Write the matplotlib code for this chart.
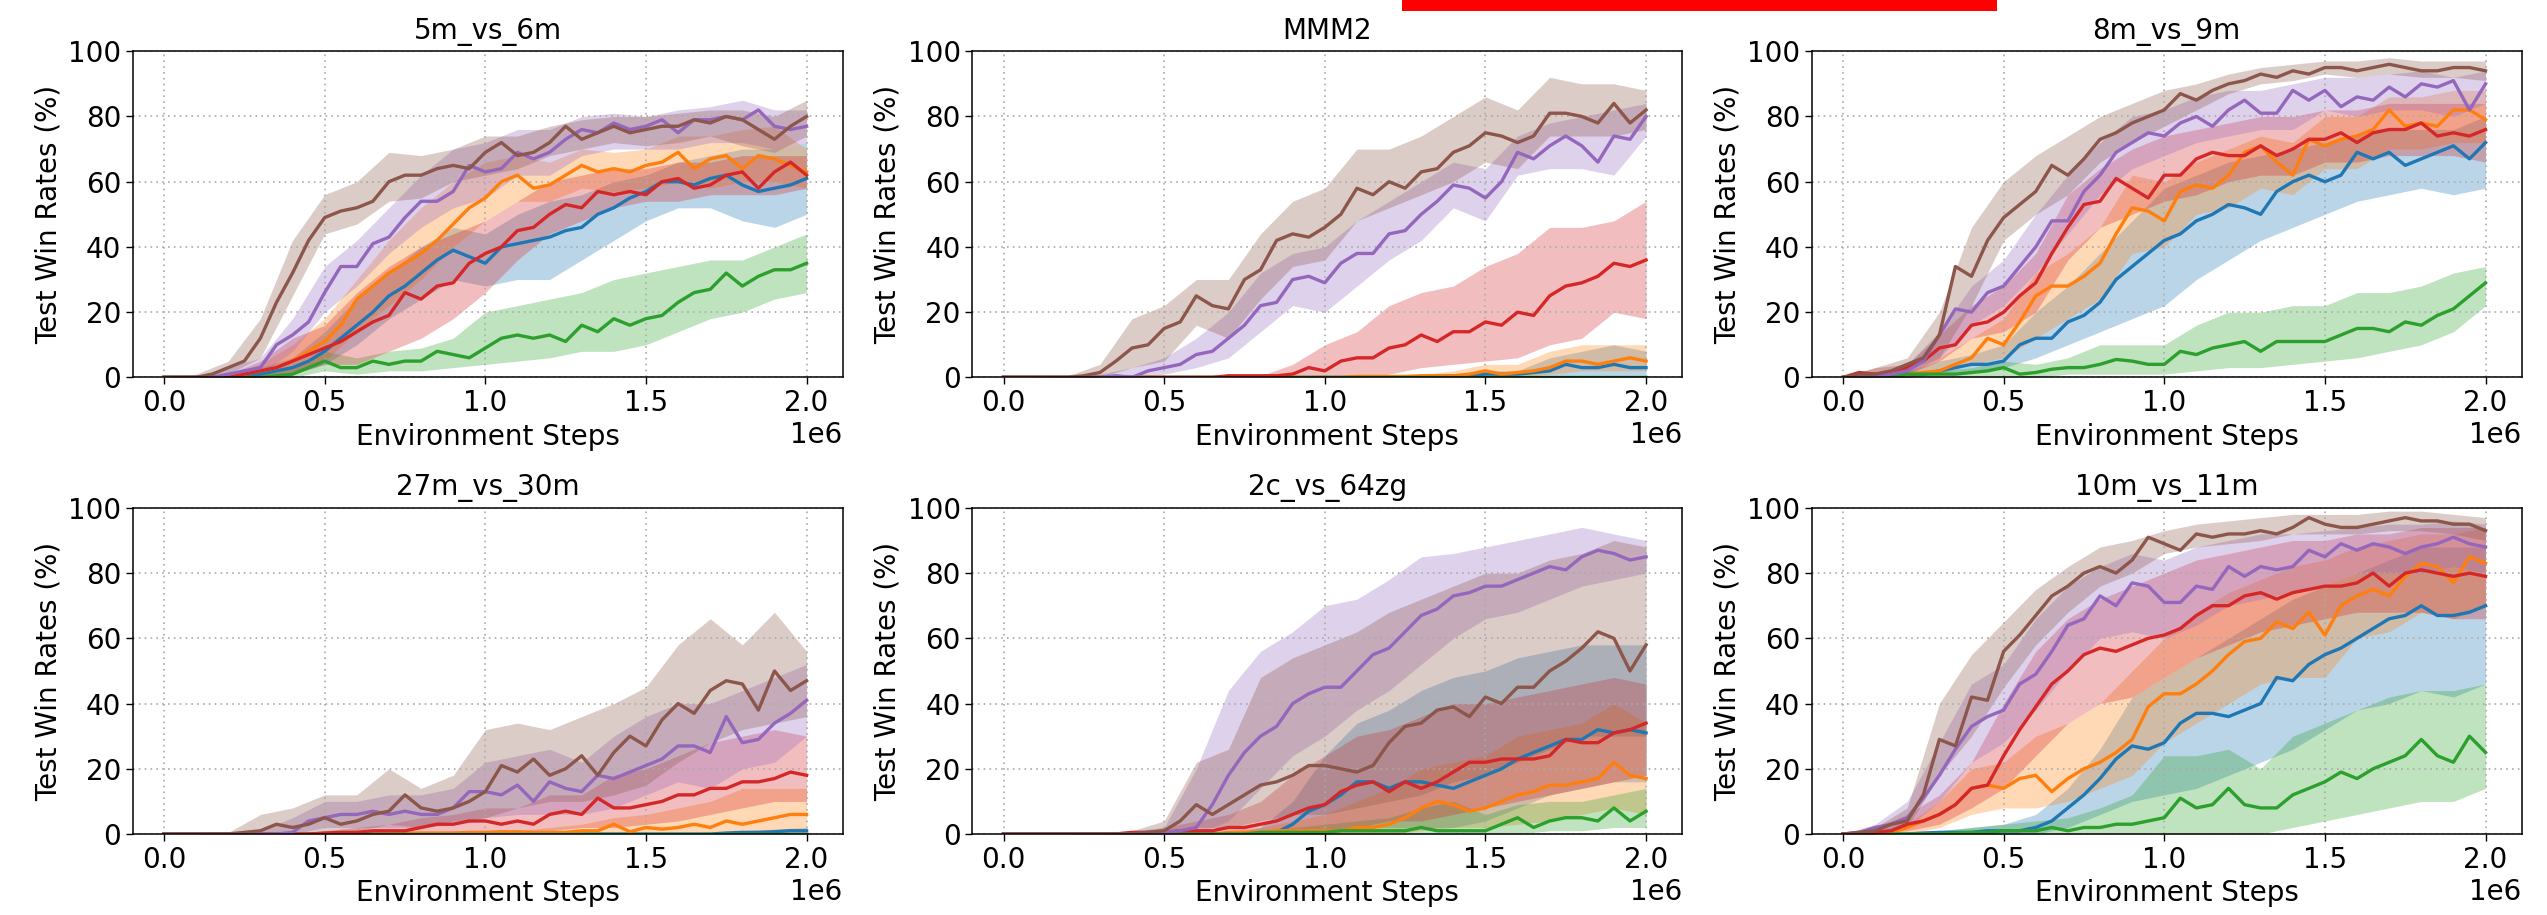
import numpy as np
import matplotlib
matplotlib.use("Agg")
import matplotlib.pyplot as plt
from matplotlib.patches import Rectangle

# ---------------- data (win rates in %) ----------------
# mean curves sampled every 0.05e6 steps (41 pts), bands every 0.1e6 (21 pts)
titles = ["5m_vs_6m", "MMM2", "8m_vs_9m", "27m_vs_30m", "2c_vs_64zg", "10m_vs_11m"]
series_colors = ["#1f77b4", "#ff7f0e", "#2ca02c", "#d62728", "#9467bd", "#8c564b"]
xticks_vals = [0.0, 0.5e6, 1.0e6, 1.5e6, 2.0e6]
yticks_vals = [0, 20, 40, 60, 80, 100]

# --- 5m_vs_6m
A_blue = [0,0,0,0,0, 0.5,1,2,3,5, 8,12,16,20,25, 28,32,36,39,37, 35,40,41,42,43, 45,46,50,52,55, 57,60,60,59,61, 62,59,57,58,59, 61]
A_blue_lo = [0,0,0,0,1,4,10,18,24,30,28,30,30,36,42,48,52,52,48,46,50]
A_blue_hi = [0,0,1,3,6,14,24,32,40,46,44,50,54,56,60,62,66,68,70,70,72]
A_orange = [0,0,0,0,0, 1,2,3,5,8, 11,16,24,28,32, 35,38,42,47,52, 55,60,62,58,59, 62,65,63,64,63, 65,66,69,64,67, 68,64,68,67,65, 63]
A_orange_lo = [0,0,0,0,2,5,14,22,30,40,48,54,54,58,57,58,60,58,60,60,58]
A_orange_hi = [0,0,1,4,10,18,30,42,52,60,66,68,66,70,69,70,74,74,76,77,70]
A_green = [0,0,0,0,0, 0,0,0.5,1,3, 5,3,3,5,4, 5,5,8,7,6, 9,12,13,12,13, 11,16,14,18,16, 18,19,23,26,27, 32,28,31,33,33, 35]
A_green_lo = [0,0,0,0,0,2,1,2,2,3,4,5,6,8,8,10,14,18,20,24,26]
A_green_hi = [0,0,0,1,3,8,6,8,9,12,20,22,24,26,30,32,34,36,36,40,44]
A_red = [0,0,0,0,0, 1,2,3,5,7, 9,11,14,17,19, 26,24,28,29,35, 38,40,45,46,50, 53,52,57,56,57, 56,60,61,58,59, 62,63,58,63,66, 62]
A_red_lo = [0,0,0,0,1,4,4,8,12,18,26,36,44,48,52,54,54,56,56,56,58]
A_red_hi = [0,0,1,5,12,16,26,34,40,44,48,54,60,62,64,64,66,66,68,68,68]
A_purple = [0,0,0,0,1, 2,3,10,13,17, 26,34,34,41,43, 49,54,54,57,65, 63,64,69,67,69, 73,76,75,78,76, 77,79,75,79,79, 80,79,82,77,76, 77]
A_purple_lo = [0,0,0,1,8,20,28,38,46,52,55,62,62,68,70,70,70,72,72,70,72]
A_purple_hi = [0,0.5,3,6,18,34,42,52,62,70,72,76,76,80,81,80,82,83,85,82,82]
A_brown = [0,0,0,1,3, 5,12,23,32,42, 49,51,52,54,60, 62,62,64,65,64, 69,72,68,69,72, 77,73,75,77,75, 76,77,77,79,78, 80,79,76,73,77, 80]
A_brown_lo = [0,0,1,6,25,44,47,54,55,60,62,64,68,70,72,71,72,74,71,69,74]
A_brown_hi = [0,1,5,18,42,56,60,69,68,70,74,74,77,79,80,80,81,82,82,80,85]

# --- MMM2
B_blue = [0,0,0,0,0, 0,0,0,0,0, 0,0,0,0,0, 0,0,0,0,0, 0,0,0,0,0, 0,0,0.3,0.5,0.5, 1,1,1,1.5,2, 4,3,3,4,3, 3]
B_blue_lo = [0,0,0,0,0,0,0,0,0,0,0,0,0,0,0,0,0,0,0,0,0]
B_blue_hi = [0,0,0,0,0,0,0,0,0,0,0,0,0,0,0.5,2,2,6,8,10,8]
B_orange = [0,0,0,0,0, 0,0,0,0,0, 0,0,0,0,0, 0,0,0,0,0, 0,0,0.3,0.3,0.3, 0.3,0.5,0.5,0.5,1, 2,1,1.5,2,3, 5,5,4,5,6, 5]
B_orange_lo = [0,0,0,0,0,0,0,0,0,0,0,0,0,0,0,0,0,1,2,2,2]
B_orange_hi = [0,0,0,0,0,0,0,0,0,0.5,0.5,0.5,0.5,1,2,4,4,8,10,10,10]
B_green = [0,0,0,0,0, 0,0,0,0,0, 0,0,0,0,0, 0,0,0,0,0, 0,0,0,0,0, 0,0,0,0,0, 0,0,0,0,0, 0,0,0,0,0, 0]
B_green_lo = [0,0,0,0,0,0,0,0,0,0,0,0,0,0,0,0,0,0,0,0,0]
B_green_hi = [0,0,0,0,0,0,0,0,0,0,0,0,0,0,0,0,0,0.3,0.3,0.3,0.3]
B_red = [0,0,0,0,0, 0,0,0,0,0, 0,0,0,0,0.5, 0.5,0.5,0.5,1,3, 2,5,6,6,9, 10,13,11,14,14, 17,16,20,19,25, 28,29,31,35,34, 36]
B_red_lo = [0,0,0,0,0,0,0,0,0,0,0,0,1,3,4,5,6,10,12,20,18]
B_red_hi = [0,0,0,0,0,0,0,0,0.5,4,10,14,22,26,28,34,38,46,46,48,54]
B_purple = [0,0,0,0,0, 0,0,0.5,0,2, 3,4,7,8,12, 16,22,23,30,31, 29,35,38,38,44, 45,50,54,59,58, 55,60,69,67,71, 74,71,66,74,73, 80]
B_purple_lo = [0,0,0,0,0,1,3,6,14,22,20,28,36,42,52,48,62,64,64,62,74]
B_purple_hi = [0,0,0,1,3,6,12,20,32,38,40,48,54,60,66,64,74,78,80,82,84]
B_brown = [0,0,0,0,0, 0.5,1.5,5,9,10, 15,17,25,22,21, 30,33,42,44,43, 46,50,58,56,60, 58,63,64,69,71, 75,74,72,74,81, 81,80,78,84,78, 82]
B_brown_lo = [0,0,0,0,3,5,16,12,24,34,36,48,52,56,60,66,64,74,74,74,76]
B_brown_hi = [0,0,0.5,4,18,22,30,30,44,54,58,70,70,74,80,86,82,92,90,90,88]

# --- 8m_vs_9m
C_blue = [0,0,0,0.5,1, 1,2,3,4,4, 5,10,12,12,17, 19,23,30,34,38, 42,44,48,50,53, 52,50,57,60,62, 60,62,69,67,69, 65,67,69,71,67, 72]
C_blue_lo = [0,0,0,1,2,3,6,10,14,18,22,30,36,42,46,50,54,56,58,56,58]
C_blue_hi = [0,0.5,2,5,7,10,20,28,38,48,58,62,66,68,70,72,74,76,76,76,80]
C_orange = [0,0,0,0.5,1, 1.5,2,4,6,12, 10,17,25,28,28, 31,35,44,52,51, 48,57,59,58,62, 69,71,66,62,73, 71,73,74,76,82, 77,78,77,82,82, 79]
C_orange_lo = [0,0,0,1,4,6,12,18,24,38,40,50,52,58,56,64,64,70,70,72,72]
C_orange_hi = [0,0,2,6,12,18,32,38,46,62,60,66,70,74,72,80,80,86,86,88,88]
C_green = [0,0.5,0,0.5,1, 1,1,1,1.5,2, 3,1,1.5,2.5,3, 3,4,5.5,5,4, 4,8,7,9,10, 11,8,11,11,11, 11,13,15,15,14, 17,16,19,21,25, 29]
C_green_lo = [0,0,0,0,0,0,0,1,1,1,1,2,3,3,4,5,6,8,10,14,22]
C_green_hi = [0,1,2,2,3,5,4,6,10,10,10,16,20,20,22,22,26,26,28,32,34]
C_red = [0,1.5,1,1,3, 5,9,10,16,17, 20,25,29,38,46, 53,54,61,58,55, 62,62,67,69,68, 68,71,68,70,73, 73,75,72,75,76, 76,78,74,75,74, 76]
C_red_lo = [0,0,1,5,12,14,20,36,46,50,54,56,60,62,62,66,66,68,68,68,66]
C_red_hi = [0,3,4,13,22,28,38,56,64,70,74,76,78,80,80,82,82,84,84,84,84]
C_purple = [0,0,0.5,1,2, 5,13,21,20,26, 28,34,40,48,48, 57,62,69,72,75, 74,78,80,77,82, 85,81,81,88,85, 88,83,86,85,89, 86,90,89,91,82, 90]
C_purple_lo = [0,0,1,6,16,22,32,44,56,64,68,72,74,76,76,82,80,82,82,80,84]
C_purple_hi = [0,1,4,14,28,36,50,62,72,80,82,86,88,88,90,92,92,93,94,92,94]
C_brown = [0,1,1,2,4, 6,13,34,31,42, 49,53,57,65,62, 67,73,75,78,80, 82,87,85,88,90, 91,93,92,94,93, 95,95,94,95,96, 95,94,94,95,95, 94]
C_brown_lo = [0,0,2,6,22,42,50,56,66,72,77,82,87,90,91,93,92,93,92,92,91]
C_brown_hi = [0,3,6,20,46,60,68,74,80,84,88,90,93,95,96,97,97,98,97,97,97]

# --- 27m_vs_30m
D_blue = [0,0,0,0,0, 0,0,0,0,0, 0,0,0,0,0, 0,0,0,0,0, 0,0,0,0,0, 0,0,0,0,0, 0,0,0,0,0, 0.3,0.5,0.5,0.7,1, 1]
D_blue_lo = [0,0,0,0,0,0,0,0,0,0,0,0,0,0,0,0,0,0,0,0,0]
D_blue_hi = [0,0,0,0,0,0,0,0,0,0,0,0,0,0,0,0,0,0,1,1.5,2]
D_orange = [0,0,0,0,0, 0,0,0,0,0, 0,0,0,0,0, 0.3,0.3,0.3,0.3,0.5, 0.5,0.7,0.7,0.5,0.5, 0.5,1,1,3,0.7, 2,1.5,2,3,2, 4,3,4,5,6, 6]
D_orange_lo = [0,0,0,0,0,0,0,0,0,0,0,0,0,0,0,0,0,0,0,0,0]
D_orange_hi = [0,0,0,0,0,0,0,0.5,0.5,1,1,1,2,3,5,6,8,10,14,14,14]
D_green = [0,0,0,0,0, 0,0,0,0,0, 0,0,0,0,0, 0,0,0,0,0, 0,0,0,0,0, 0,0,0,0,0, 0,0,0,0,0, 0,0,0,0,0, 0]
D_green_lo = [0,0,0,0,0,0,0,0,0,0,0,0,0,0,0,0,0,0,0,0,0]
D_green_hi = [0,0,0,0,0,0,0,0,0,0,0,0,0,0,0,0,0,0,0,0,0]
D_red = [0,0,0,0,0, 0,0,0,0,0, 0.3,0.5,0.5,1,1, 1,2,3,3,4, 4,3,4,3,6, 7,6,11,8,8, 9,10,12,12,14, 14,16,16,17,19, 18]
D_red_lo = [0,0,0,0,0,0,0,0,0,0,0,0,1,2,2,3,4,6,8,10,10]
D_red_hi = [0,0,0,0,0,1,2,3,5,6,8,8,12,12,18,20,24,28,30,32,30]
D_purple = [0,0,0,0,0, 0,0,0,0.5,4, 5,6,6,7,6, 7,6,6,8,13, 13,12,15,10,16, 14,13,18,17,19, 21,23,27,27,25, 36,28,29,34,37, 41]
D_purple_lo = [0,0,0,0,0,2,2,2,2,3,5,6,6,6,8,12,16,14,20,22,30]
D_purple_hi = [0,0,0,1,5,10,10,12,12,14,22,24,26,22,30,36,40,40,44,48,52]
D_brown = [0,0,0,0,0, 0.5,1,3,2,3, 5,3,4,6,7, 12,8,7,8,10, 13,21,19,23,18, 20,24,18,25,30, 27,35,40,37,44, 47,46,38,50,44, 47]
D_brown_lo = [0,0,0,0,0,0,1,3,2,4,5,8,10,10,12,15,22,28,32,34,36]
D_brown_hi = [0,0,0.5,6,8,12,12,20,14,18,32,34,32,36,40,45,58,66,58,68,56]

# --- 2c_vs_64zg
E_blue = [0,0,0,0,0, 0,0,0,0,0, 0,0,0,0,0, 0,0,0.5,3,7, 9,12,16,16,14, 16,16,15,14,16, 18,20,23,25,27, 29,29,32,31,32, 31]
E_blue_lo = [0,0,0,0,0,0,0,0,0,0,0,2,2,2,2,4,8,12,14,16,16]
E_blue_hi = [0,0,0,0,0,0,0,0,2,10,24,34,38,44,48,50,54,56,58,58,58]
E_orange = [0,0,0,0,0, 0,0,0,0,0, 0,0,0,0,0.5, 0.5,0.5,1,1,1, 1,1,2,2,3, 5,8,10,9,7, 8,10,12,13,15, 15,16,17,22,18, 17]
E_orange_lo = [0,0,0,0,0,0,0,0,0,0,0,0,0,1,2,2,3,4,6,8,6]
E_orange_hi = [0,0,0,0,0,0,0,1,2,4,6,10,14,20,22,24,30,32,34,40,34]
E_green = [0,0,0,0,0, 0,0,0,0,0, 0,0,0,0,0, 0,0.5,0.5,0.5,0.5, 0.5,1,1,1,1, 1,2,1,1,1, 1,3,5,2,4, 5,5,4,8,4, 7]
E_green_lo = [0,0,0,0,0,0,0,0,0,0,0,0,0,0,0,0,0,1,1,2,2]
E_green_hi = [0,0,0,0,0,0,0,0,1,2,3,4,5,8,10,6,9,10,10,12,14]
E_red = [0,0,0,0,0, 0,0,0,0.5,0.5, 0.5,1,1,1,2, 2,3,4,6,8, 9,13,15,16,13, 16,14,16,19,22, 22,23,23,23,24, 29,28,28,31,32, 34]
E_red_lo = [0,0,0,0,0,0,0,0,0,0,0,2,4,4,6,8,10,12,14,16,18]
E_red_hi = [0,0,0,0,0.5,2,4,6,10,18,24,30,32,36,40,40,42,44,46,48,46]
E_purple = [0,0,0,0,0, 0,0,0,0,0.5, 0.5,1,2,9,18, 25,30,33,40,43, 45,45,50,55,57, 62,67,69,73,74, 76,76,78,80,82, 81,85,87,86,84, 85]
E_purple_lo = [0,0,0,0,0,0,0,4,14,24,30,38,44,52,60,66,68,72,76,78,80]
E_purple_hi = [0,0,0,0.5,1,2,20,44,56,62,70,72,78,85,86,88,90,92,94,92,90]
E_brown = [0,0,0,0,0, 0,0,0,0,0.5, 1,4,9,6,9, 12,15,16,18,21, 21,20,19,21,28, 33,34,38,39,36, 42,40,45,45,50, 53,57,62,60,50, 58]
E_brown_lo = [0,0,0,0,0,0,2,2,4,6,6,8,10,12,16,18,22,26,30,30,30]
E_brown_hi = [0,0,0,0.5,1,4,22,26,48,54,58,62,68,72,76,80,80,84,86,90,88]

# --- 10m_vs_11m
F_blue = [0,0,0,0,0, 0.3,0.5,0.5,0.5,1, 1,1,2,4,8, 12,17,23,27,26, 28,34,37,37,36, 38,40,48,47,52, 55,57,60,63,66, 67,70,67,67,68, 70]
F_blue_lo = [0,0,0,0,0,0,0,2,6,10,12,14,18,22,26,32,38,40,44,42,46]
F_blue_hi = [0,0,0,1,2,3,6,14,26,42,48,54,60,66,72,76,80,84,88,88,88]
F_orange = [0,0,0,0.5,2, 4,6,9,14,15, 14,17,18,13,17, 20,22,25,29,39, 43,43,46,50,55, 59,60,65,63,68, 61,70,73,75,73, 79,83,82,77,85, 83]
F_orange_lo = [0,0,0,2,6,8,8,10,14,18,28,34,40,46,48,48,60,62,68,66,70]
F_orange_hi = [0,0.5,3,10,20,22,30,34,40,50,60,68,74,78,82,84,88,90,92,92,94]
F_green = [0,0,0,0,0, 0,0,0.3,0.5,0.5, 1,1,1,2,1, 2,2,3,3,4, 5,11,8,9,14, 9,8,8,12,14, 16,19,17,20,22, 24,29,24,22,30, 25]
F_green_lo = [0,0,0,0,0,0,0,0,0,0,0,0,0,0,2,4,6,8,10,10,14]
F_green_hi = [0,0,0,1,2,3,4,5,8,12,24,24,26,20,30,34,38,42,44,44,46]
F_red = [0,0.3,0.5,1,3, 4,6,9,14,15, 24,32,39,46,50, 55,57,56,58,60, 61,63,67,70,70, 73,74,72,74,75, 76,76,77,80,76, 80,81,80,79,80, 79]
F_red_lo = [0,0,1,3,8,14,24,34,40,42,48,54,58,62,64,66,68,68,68,66,66]
F_red_hi = [0,2,6,12,22,40,56,66,72,76,80,84,86,88,90,90,92,92,94,94,94]
F_purple = [0,0.5,2,3,5, 11,18,26,33,36, 38,46,49,56,64, 66,73,70,77,76, 71,71,76,75,82, 79,82,81,82,87, 85,89,87,89,88, 86,88,89,91,89, 88]
F_purple_lo = [0,0,2,10,22,28,38,50,60,62,60,64,70,72,74,76,80,80,80,82,80]
F_purple_hi = [0,3,10,28,46,52,66,76,82,86,84,88,90,92,92,93,94,95,95,96,95]
F_brown = [0,0.5,1,3,4, 12,29,27,42,41, 56,61,67,73,76, 80,82,80,84,91, 89,87,92,91,92, 92,93,92,94,97, 95,94,94,95,96, 97,96,96,95,95, 93]
F_brown_lo = [0,0,2,18,30,45,58,68,76,80,86,88,89,90,92,92,92,93,93,92,90]
F_brown_hi = [0,2,8,40,55,65,75,82,88,90,93,95,96,97,98,98,98,99,99,98,97]

panels = [
    [(A_blue, A_blue_lo, A_blue_hi), (A_orange, A_orange_lo, A_orange_hi), (A_green, A_green_lo, A_green_hi),
     (A_red, A_red_lo, A_red_hi), (A_purple, A_purple_lo, A_purple_hi), (A_brown, A_brown_lo, A_brown_hi)],
    [(B_blue, B_blue_lo, B_blue_hi), (B_orange, B_orange_lo, B_orange_hi), (B_green, B_green_lo, B_green_hi),
     (B_red, B_red_lo, B_red_hi), (B_purple, B_purple_lo, B_purple_hi), (B_brown, B_brown_lo, B_brown_hi)],
    [(C_blue, C_blue_lo, C_blue_hi), (C_orange, C_orange_lo, C_orange_hi), (C_green, C_green_lo, C_green_hi),
     (C_red, C_red_lo, C_red_hi), (C_purple, C_purple_lo, C_purple_hi), (C_brown, C_brown_lo, C_brown_hi)],
    [(D_blue, D_blue_lo, D_blue_hi), (D_orange, D_orange_lo, D_orange_hi), (D_green, D_green_lo, D_green_hi),
     (D_red, D_red_lo, D_red_hi), (D_purple, D_purple_lo, D_purple_hi), (D_brown, D_brown_lo, D_brown_hi)],
    [(E_blue, E_blue_lo, E_blue_hi), (E_orange, E_orange_lo, E_orange_hi), (E_green, E_green_lo, E_green_hi),
     (E_red, E_red_lo, E_red_hi), (E_purple, E_purple_lo, E_purple_hi), (E_brown, E_brown_lo, E_brown_hi)],
    [(F_blue, F_blue_lo, F_blue_hi), (F_orange, F_orange_lo, F_orange_hi), (F_green, F_green_lo, F_green_hi),
     (F_red, F_red_lo, F_red_hi), (F_purple, F_purple_lo, F_purple_hi), (F_brown, F_brown_lo, F_brown_hi)],
]

# ---------------- figure ----------------
plt.rcParams['font.family'] = ['DejaVu Sans']
FS = 20
fig, axes = plt.subplots(2, 3, figsize=(25.47, 9.15), dpi=100)
fig.subplots_adjust(left=0.0522, right=0.99, top=0.944, bottom=0.0885, wspace=0.183, hspace=0.40)

for ax, title, series in zip(axes.flat, titles, panels):
    for (mean, lo, hi), col in zip(series, series_colors):
        xm = np.linspace(0, 2.0e6, len(mean))
        xb = np.linspace(0, 2.0e6, len(lo))
        ax.fill_between(xb, lo, hi, color=col, alpha=0.3, linewidth=0)
        ax.plot(xm, mean, color=col, linewidth=2.4)
    ax.set_title(title, fontsize=FS, pad=9)
    ax.set_xlim(-0.0967e6, 2.112e6)
    ax.set_ylim(0, 100)
    ax.set_xticks(xticks_vals)
    ax.set_yticks(yticks_vals)
    ax.ticklabel_format(axis='x', style='sci', scilimits=(0, 0))
    ax.xaxis.get_offset_text().set_fontsize(FS)
    ax.tick_params(labelsize=FS, length=5, width=1.0)
    ax.set_xlabel("Environment Steps", fontsize=FS, labelpad=4)
    ax.set_ylabel("Test Win Rates (%)", fontsize=FS)
    ax.grid(True, linestyle=(0, (1, 2.5)), color='#aaaaaa', linewidth=1.2)
    for sp in ax.spines.values():
        sp.set_linewidth(1.1)

# red bar at top (as in reference)
fig.patches.append(Rectangle((0.5505, 1 - 11 / 915), 0.2336, 11 / 915,
                             transform=fig.transFigure, facecolor='#ff0000',
                             edgecolor='none', zorder=10))

fig.savefig("out.png", dpi=100)
